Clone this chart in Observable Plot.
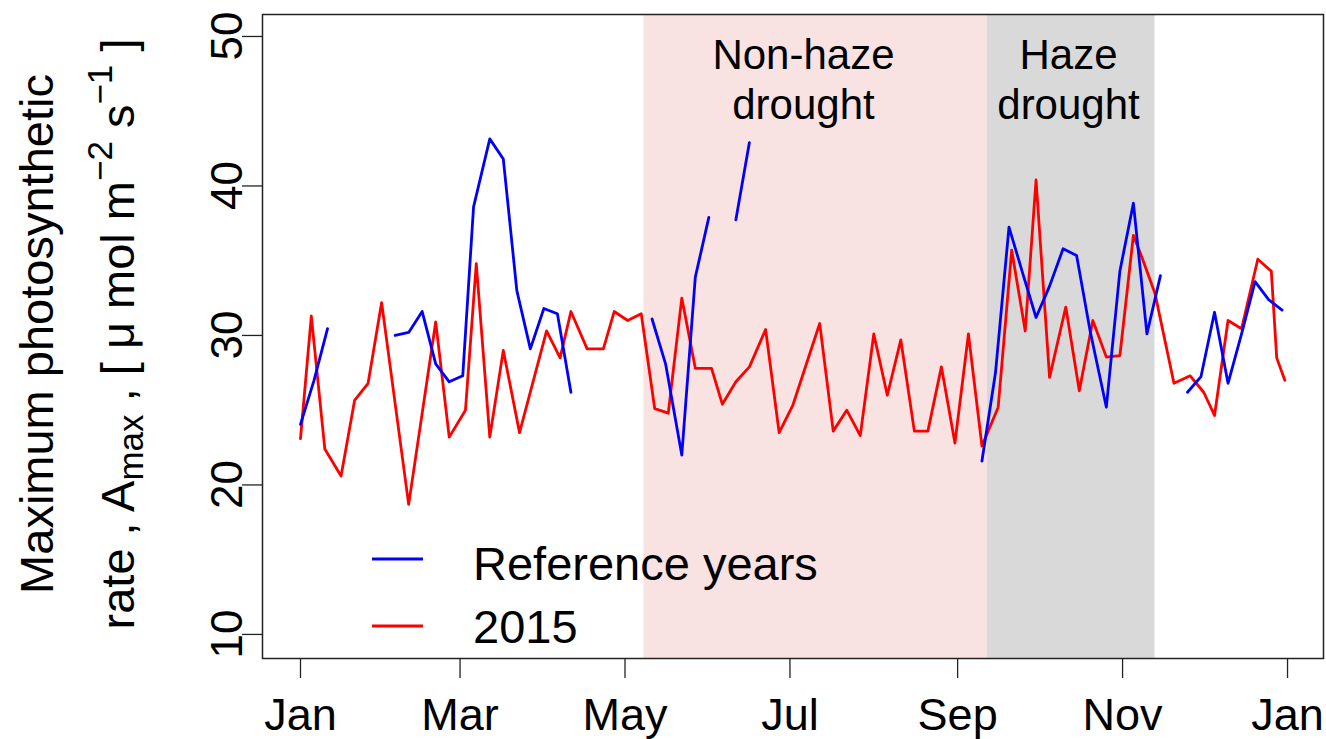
<!DOCTYPE html>
<html><head><meta charset="utf-8">
<script src="https://cdn.jsdelivr.net/npm/d3@7"></script>
<script src="https://cdn.jsdelivr.net/npm/@observablehq/plot@0.6"></script>
<style>
body{margin:0;background:#fff;font-family:"Liberation Sans",Arial,sans-serif;}
#chart{width:1326px;height:739px;}
</style></head><body><div id="chart"></div>
<script>
// ---- data ----
const dates2015 = ["2015-01-01","2015-01-05","2015-01-10","2015-01-16","2015-01-21","2015-01-26","2015-01-31","2015-02-10","2015-02-20","2015-02-25","2015-03-03","2015-03-07","2015-03-12","2015-03-17","2015-03-23","2015-04-02","2015-04-07","2015-04-11","2015-04-17","2015-04-23","2015-04-27","2015-05-02","2015-05-07","2015-05-12","2015-05-17","2015-05-22","2015-05-27","2015-06-02","2015-06-06","2015-06-11","2015-06-16","2015-06-22","2015-06-27","2015-07-02","2015-07-12","2015-07-17","2015-07-22","2015-07-27","2015-08-01","2015-08-06","2015-08-11","2015-08-16","2015-08-21","2015-08-26","2015-08-31","2015-09-05","2015-09-10","2015-09-16","2015-09-21","2015-09-26","2015-09-30","2015-10-05","2015-10-11","2015-10-16","2015-10-21","2015-10-26","2015-10-31","2015-11-05","2015-11-08","2015-11-13","2015-11-20","2015-11-26","2015-12-01","2015-12-05","2015-12-10","2015-12-15","2015-12-21","2015-12-26","2015-12-28","2015-12-31"];
const amax2015 = [23.1,31.3,22.4,20.6,25.65,26.8,32.2,18.7,30.9,23.2,25.0,34.8,23.2,29.0,23.5,30.3,28.5,31.6,29.1,29.1,31.6,31.0,31.45,25.1,24.8,32.5,27.8,27.8,25.4,26.9,27.9,30.4,23.5,25.3,30.8,23.6,25.0,23.3,30.1,26.0,29.7,23.6,23.6,27.9,22.8,30.1,22.6,25.2,35.7,30.3,40.4,27.2,31.9,26.3,31.0,28.55,28.65,36.7,35.3,32.8,26.8,27.3,26.2,24.65,31.0,30.45,35.1,34.3,28.5,27.0];

const datesRef = ["2015-01-01","2015-01-06","2015-01-11","2015-01-20","2015-02-05","2015-02-10","2015-02-15","2015-02-20","2015-02-25","2015-03-02","2015-03-06","2015-03-12","2015-03-17","2015-03-22","2015-03-27","2015-04-01","2015-04-06","2015-04-11","2015-04-25","2015-05-11","2015-05-16","2015-05-22","2015-05-27","2015-06-01","2015-06-06","2015-06-11","2015-06-16","2015-08-01","2015-09-10","2015-09-15","2015-09-20","2015-09-25","2015-09-30","2015-10-05","2015-10-10","2015-10-15","2015-10-20","2015-10-26","2015-10-31","2015-11-05","2015-11-10","2015-11-15","2015-11-20","2015-11-25","2015-11-30","2015-12-05","2015-12-10","2015-12-15","2015-12-20","2015-12-25","2015-12-30"];
const amaxRef = [24.05,27.0,30.45,null,30.0,30.2,31.6,28.1,26.9,27.3,38.6,43.15,41.8,33.0,29.1,31.8,31.45,26.2,null,31.1,28.1,22.0,33.9,37.9,null,37.74,42.9,null,21.6,27.5,37.25,34.2,31.2,33.3,35.8,35.35,30.3,25.2,34.3,38.85,30.1,34.0,null,26.2,27.25,31.55,26.8,30.1,33.6,32.4,31.7];

const periodNames = ["Non-haze drought","Haze drought"];
const periodStart = ["2015-05-08","2015-09-12"];
const periodEnd = ["2015-09-12","2015-11-13"];
const periodLabels = ["Non-haze\ndrought","Haze\ndrought"];
const periodLabelDates = ["2015-07-06","2015-10-12"];

const xTicks = ["2015-01-01","2015-03-01","2015-05-01","2015-07-01","2015-09-01","2015-11-01","2016-01-01"];
const yTicks = [10,20,30,40,50];
const seriesNames = ["Reference years","2015"];

// ---- build tables ----
const P = d3.utcParse("%Y-%m-%d");
const red = dates2015.map((d,i)=>({date:P(d), v:amax2015[i]}));
const blue = datesRef.map((d,i)=>({date:P(d), v:amaxRef[i]}));
const periods = periodNames.map((n,i)=>({name:n, start:P(periodStart[i]), end:P(periodEnd[i]), label:periodLabels[i], at:P(periodLabelDates[i])}));
const periodFill = {"Non-haze drought":"#f8e3e2","Haze drought":"#d9d9d9"};

const DAY = 86400000;
const x0 = +P("2015-01-01");
const xDomain = [new Date(x0 - 14.05*DAY), new Date(x0 + 378.3*DAY)];
const yDomain = [8.39, 51.47];
const FONT = '"Liberation Sans", Arial, sans-serif';

const chart = Plot.plot({
  width:1326, height:739,
  marginLeft:262, marginRight:3, marginTop:14, marginBottom:81,
  style:{fontFamily:FONT, background:"white", color:"black", overflow:"visible"},
  x:{type:"utc", domain:xDomain},
  y:{domain:yDomain},
  marks:[
    Plot.rect(periods, {x1:"start", x2:"end", y1:yDomain[0], y2:yDomain[1], fill:d=>periodFill[d.name]}),
    Plot.text(periods, {x:"at", frameAnchor:"top", dy:20, text:"label", fontSize:42, lineHeight:1.17, lineAnchor:"top", textAnchor:"middle", fill:"black"}),
    Plot.line(red, {x:"date", y:"v", stroke:"#ff0000", strokeWidth:2.8}),
    Plot.line(blue, {x:"date", y:"v", stroke:"#0000ff", strokeWidth:2.8}),
    Plot.axisX({ticks:xTicks.map(P), tickSize:20, tickPadding:20, tickFormat:d3.utcFormat("%b"), fontSize:45, label:null, stroke:"#222", strokeWidth:1.3}),
    Plot.axisY({ticks:yTicks, tickSize:20, tickFormat:()=>"", label:null, stroke:"#222", strokeWidth:1.3}),
    Plot.frame({stroke:"#222", strokeWidth:1.5})
  ]
});
document.getElementById("chart").appendChild(chart);

// ---- y tick labels (rotated, through the plot's y scale), y title, legend ----
const svg = d3.select(chart);
const ys = chart.scale("y");
const g = svg.append("g").attr("font-family", FONT).attr("fill","black").attr("text-anchor","start");
yTicks.forEach(v=>{
  g.append("text").attr("transform",`translate(227,${ys.apply(v)}) rotate(-90)`)
    .attr("text-anchor","middle").attr("dy","0.35em").attr("font-size",44).text(String(v));
});
g.append("text").attr("transform","translate(53,334) rotate(-90)").attr("text-anchor","middle").attr("font-size",47).text("Maximum photosynthetic");
const t2 = g.append("text").attr("transform","translate(134,334) rotate(-90)").attr("text-anchor","middle").attr("font-size",47);
t2.append("tspan").text("rate , A");
t2.append("tspan").attr("font-size",35).attr("dy",9).text("max");
t2.append("tspan").attr("dy",-9).text(" , [ \u03bc mol m");
t2.append("tspan").attr("font-size",35).attr("dy",-22).text("\u22122");
t2.append("tspan").attr("dy",22).text(" s");
t2.append("tspan").attr("font-size",35).attr("dy",-22).text("\u22121");
t2.append("tspan").attr("dy",22).text(" ]");

const legColors = ["#0000ff","#ff0000"];
const legLineY = [559, 626];
const legTextY = [580, 643];
seriesNames.forEach((s,i)=>{
  g.append("line").attr("x1",372).attr("x2",423).attr("y1",legLineY[i]).attr("y2",legLineY[i]).attr("stroke",legColors[i]).attr("stroke-width",2.8);
  g.append("text").attr("x",473).attr("y",legTextY[i]).attr("text-anchor","start").attr("font-size",47).text(s);
});
</script></body></html>
